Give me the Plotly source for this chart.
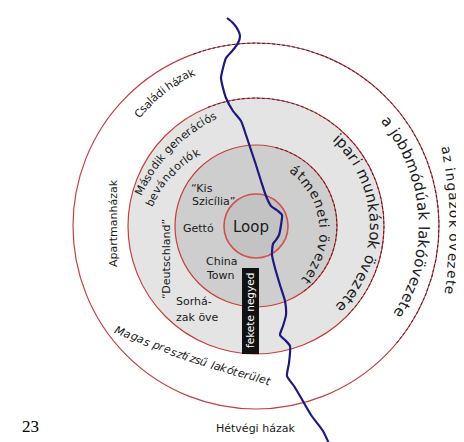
import numpy as np
import plotly.graph_objects as go

W, H = 464, 442
CX, CY = 248, 218

# ---- data ----
zone_radii = [32, 81, 128, 183]
zone_fills = ["#c3c3c3", "#cecece", "#e4e4e4", "rgba(0,0,0,0)"]
dash_from = [None, -76, -112, -110]
dash_to = [None, 55, 45, 40]

river_x = [219, 225, 230, 232, 230, 225, 218, 215, 213, 215, 218, 225, 233, 238, 243, 248, 253, 258, 263, 270,
           274, 273, 271, 268, 265, 264, 267, 272, 277, 278, 275, 272, 277, 282, 281, 279, 286, 292, 303, 315, 323, 325]
river_y = [10, 15, 22, 28, 35, 42, 50, 60, 70, 80, 90, 103, 113, 127, 142, 157, 173, 188, 198, 203,
           207, 217, 227, 232, 236, 247, 260, 277, 293, 307, 318, 327, 332, 338, 355, 368, 378, 388, 407, 423, 440, 444]

arc_texts = ["Családi házak", "Második generációs", "bevándorlók", "átmeneti övezet",
             "ipari munkások övezete", "a jobbmódúak lakóövezete", "az ingázók övezete",
             "Magas presztízsű lakóterület"]
arc_start = [(131, 105), (132, 182), (142, 195), (287, 162), (329, 130), (379, 113), (439, 142), (112, 323)]
arc_end = [(183, 65), (205, 108), (188, 145), (299, 272), (334, 298), (392, 304), (442, 282), (260, 373)]
arc_bulge = [3, 8, 5, 23, 35, 30, 6, -3]
arc_size = [11, 11, 11, 13.5, 15, 15, 13.5, 11]
arc_italic = [False] * 7 + [True]

# straight labels: text, x, y, angle, size, color
flat_labels = [
    ("Loop", 243, 219, 0, 15, "#1a1a1a"),
    ("Gettó", 190, 220, 0, 11, "#1a1a1a"),
    ("“Kis", 194, 180, 0, 11, "#1a1a1a"),
    ("Szicília”", 205, 193, 0, 11, "#1a1a1a"),
    ("China", 213, 253, 0, 11, "#1a1a1a"),
    ("Town", 212, 267, 0, 11, "#1a1a1a"),
    ("Sorhá-", 186, 293, 0, 11, "#1a1a1a"),
    ("zak öve", 189, 309, 0, 11, "#1a1a1a"),
    ("Apartmanházak", 105, 215, -90, 11, "#1a1a1a"),
    ("“Deutschland”", 158, 251, -90, 11, "#1a1a1a"),
    ("Hétvégi házak", 247, 420, 0, 11, "#1a1a1a"),
    ("fekete negyed", 242, 303, -90, 10.5, "#ffffff"),
]
black_box = (234, 251, 260, 346)

CW = {' ': 0.318, 'a': 0.613, 'á': 0.613, 'b': 0.635, 'c': 0.550, 'd': 0.635, 'e': 0.615, 'é': 0.615,
      'f': 0.352, 'g': 0.635, 'h': 0.634, 'i': 0.278, 'í': 0.278, 'j': 0.278, 'k': 0.579, 'l': 0.278,
      'm': 0.974, 'n': 0.634, 'o': 0.612, 'ó': 0.612, 'ö': 0.612, 'p': 0.635, 'r': 0.411, 's': 0.521,
      't': 0.392, 'u': 0.634, 'ú': 0.634, 'ü': 0.634, 'ű': 0.634, 'v': 0.592, 'y': 0.592, 'z': 0.525,
      'C': 0.698, 'M': 0.863}

FONT = "DejaVu Sans"

fig = go.Figure()
shapes = []
# fills (outer first)
for r, fc in sorted(zip(zone_radii, zone_fills), reverse=True):
    shapes.append(dict(type="circle", xref="x", yref="y", x0=CX - r, x1=CX + r, y0=CY - r, y1=CY + r,
                       fillcolor=fc, line=dict(width=0), layer="below"))
for i, r in enumerate(zone_radii):
    shapes.append(dict(type="circle", xref="x", yref="y", x0=CX - r, x1=CX + r, y0=CY - r, y1=CY + r,
                       fillcolor="rgba(0,0,0,0)",
                       line=dict(color="#d0504c" if i == 0 else "#c4403c", width=1.6 if i == 0 else 1.2),
                       layer="below"))

# dashed overlays
for r, a0, a1 in zip(zone_radii, dash_from, dash_to):
    if a0 is None:
        continue
    a = np.radians(np.linspace(a0, a1, 200))
    fig.add_trace(go.Scatter(x=CX + r * np.cos(a), y=CY + r * np.sin(a), mode="lines",
                             line=dict(color="#551a26", width=1.0, dash="3px,2px"),
                             hoverinfo="skip", showlegend=False))

# black box
x0, x1, y0, y1 = black_box
shapes.append(dict(type="rect", xref="x", yref="y", x0=x0, x1=x1, y0=y0, y1=y1,
                   fillcolor="#111111", line=dict(width=0), layer="above"))

# river
fig.add_trace(go.Scatter(x=river_x, y=river_y, mode="lines",
                         line=dict(color="#1c1a7c", width=2.2, shape="spline", smoothing=0.6),
                         hoverinfo="skip", showlegend=False))

annotations = []


def arc_chars(text, p0, p1, bulge):
    p0 = np.array(p0, float)
    p1 = np.array(p1, float)
    d = p1 - p0
    c = np.hypot(*d)
    u = d / c
    n = np.array([u[1], -u[0]])
    w = np.array([CW.get(ch, 0.6) for ch in text])
    cen = np.cumsum(w) - w / 2
    t = (cen - cen[0]) / (cen[-1] - cen[0])
    out = []
    if abs(bulge) < 0.5:
        ang = np.degrees(np.arctan2(u[1], u[0]))
        for ch, tt in zip(text, t):
            p = p0 + tt * d
            out.append((ch, p[0], p[1], ang))
        return out
    h = c / 2
    s = abs(bulge)
    sg = np.sign(bulge)
    R = (h * h + s * s) / (2 * s)
    m = (p0 + p1) / 2
    O = m - sg * n * (R - s)
    a0 = np.arctan2(p0[1] - O[1], p0[0] - O[0])
    a1 = np.arctan2(p1[1] - O[1], p1[0] - O[0])
    da = (a1 - a0 + np.pi) % (2 * np.pi) - np.pi
    for ch, tt in zip(text, t):
        a = a0 + tt * da
        px, py = O[0] + R * np.cos(a), O[1] + R * np.sin(a)
        tx, ty = -np.sin(a) * np.sign(da), np.cos(a) * np.sign(da)
        out.append((ch, px, py, np.degrees(np.arctan2(ty, tx))))
    return out


for text, p0, p1, b, sz, it in zip(arc_texts, arc_start, arc_end, arc_bulge, arc_size, arc_italic):
    for ch, px, py, ang in arc_chars(text, p0, p1, b):
        if ch == " ":
            continue
        annotations.append(dict(x=px, y=py, xref="x", yref="y", text=f"<i>{ch}</i>" if it else ch,
                                showarrow=False, textangle=ang, xanchor="center", yanchor="middle",
                                font=dict(family=FONT, size=sz, color="#1a1a1a")))

for text, x, y, ang, sz, col in flat_labels:
    annotations.append(dict(x=x, y=y, xref="x", yref="y", text=text, showarrow=False, textangle=ang,
                            xanchor="center", yanchor="middle",
                            font=dict(family=FONT, size=sz, color=col)))

annotations.append(dict(x=22, y=418, xref="x", yref="y", text="23", showarrow=False,
                        xanchor="center", yanchor="middle",
                        font=dict(family="Liberation Serif", size=17, color="#000000")))

fig.update_layout(
    width=W, height=H, margin=dict(l=0, r=0, t=0, b=0),
    paper_bgcolor="white", plot_bgcolor="white",
    xaxis=dict(range=[0, W], visible=False, fixedrange=True),
    yaxis=dict(range=[H, 0], visible=False, fixedrange=True),
    shapes=shapes, annotations=annotations, showlegend=False,
)
fig.write_html("out.html")
